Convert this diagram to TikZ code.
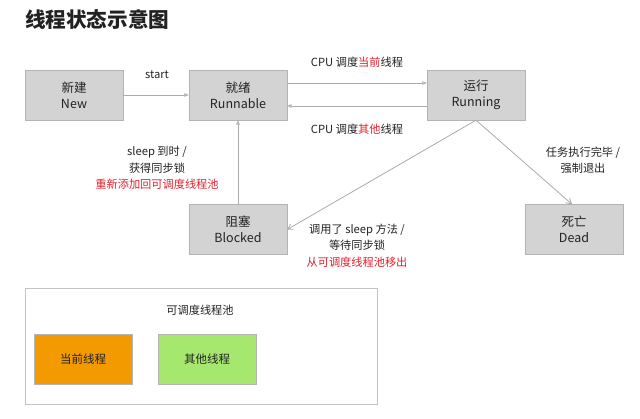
\documentclass[tikz,border=0pt]{standalone}
\usepackage{fontspec}
\setmainfont{Noto Sans CJK SC}
\usetikzlibrary{arrows.meta}
\definecolor{boxfill}{HTML}{D3D3D3}
\definecolor{boxline}{HTML}{B4B4B4}
\definecolor{arrcol}{HTML}{ABABAB}
\definecolor{redtxt}{HTML}{E3202C}
\definecolor{orangebox}{HTML}{F29A00}
\definecolor{greenbox}{HTML}{A6E86E}
\definecolor{txt}{HTML}{222222}
\begin{document}
\begin{tikzpicture}[x=1pt,y=-1pt,
  statebox/.style={draw=boxline, fill=boxfill, minimum width=98pt, minimum height=50pt,
    inner sep=0pt, align=center, text=txt, font=\fontsize{12.5}{16}\selectfont},
  poolbox/.style={draw=boxline, minimum width=98pt, minimum height=50pt,
    inner sep=0pt, align=center, text=txt, font=\fontsize{11.5}{14}\selectfont},
  lbl/.style={align=center, text=txt, inner sep=0pt, font=\fontsize{11.2}{16.5}\selectfont},
  arr/.style={draw=arrcol, line width=0.8pt, -{Triangle[open,length=4.5pt,width=3.5pt]}},
  darr/.style={draw=arrcol, line width=0.8pt, -{Straight Barb[length=5pt,width=6pt]}}]
\useasboundingbox (0,0) rectangle (640,419);

\node[anchor=west, inner sep=0pt, text=txt, font=\fontsize{20.6}{24}\selectfont\bfseries] (title) at (25,20) {线程状态示意图};

\node[statebox] (new) at (74,95) {新建\\New};
\node[statebox] (run) at (238,95) {就绪\\Runnable};
\node[statebox] (running) at (476,95) {运行\\Running};
\node[statebox] (blk) at (238,229.5) {阻塞\\Blocked};
\node[statebox] (dead) at (574,229.5) {死亡\\Dead};

\draw[arr] (new) -- (run);
\draw[arr] ([yshift=12pt]run.east) -- ([yshift=12pt]running.west);
\draw[arr] ([yshift=-11pt]running.west) -- ([yshift=-11pt]run.east);
\draw[arr] (blk.north) -- (run.south);
\draw[darr] (running.south) -- (blk.east);
\draw[darr] (running.south) -- ([xshift=-2pt]dead.north);

\node[lbl] (lstart) at (157,75) {start};
\node[lbl] (lcur) at (357,62) {CPU 调度\textcolor{redtxt}{当前}线程};
\node[lbl] (loth) at (357,129) {CPU 调度\textcolor{redtxt}{其他}线程};
\node[lbl] (lwake) at (157,168) {sleep 到时 /\\获得同步锁\\\textcolor{redtxt}{重新添加回可调度线程池}};
\node[lbl] (lsleep) at (357,245.5) {调用了 sleep 方法 /\\等待同步锁\\\textcolor{redtxt}{从可调度线程池移出}};
\node[lbl] (ldead) at (583,160) {任务执行完毕 /\\强制退出};

\node[draw=boxline!80, line width=1pt, minimum width=352pt, minimum height=116pt, inner sep=0pt] (pool) at (201,347) {};
\node[lbl] (lpool) at (200,310) {可调度线程池};
\node[poolbox, fill=orangebox] (cur) at (83,359) {当前线程};
\node[poolbox, fill=greenbox] (oth) at (207,359) {其他线程};
\end{tikzpicture}
\end{document}
